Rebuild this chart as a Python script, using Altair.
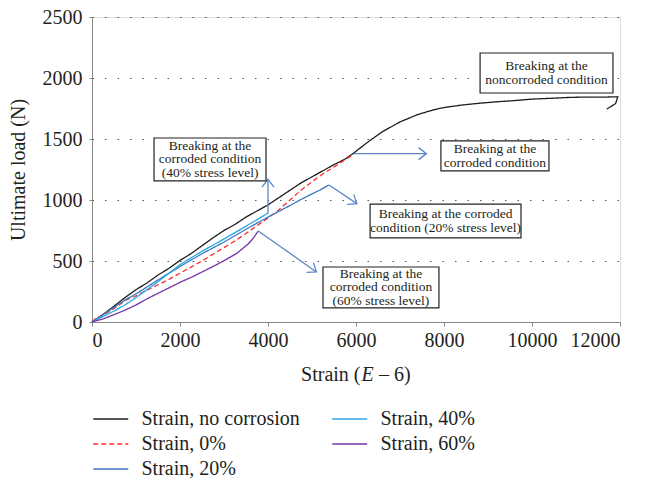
import math
import altair as alt
import pandas as pd

# ---------------- data ----------------
series_names = ["Strain, no corrosion", "Strain, 0%", "Strain, 20%", "Strain, 40%", "Strain, 60%"]

nocorr_x = [0, 150, 300, 500, 750, 1000, 1250, 1500, 1750, 2000, 2250, 2500, 2750, 3000, 3250, 3500,
            3750, 4000, 4250, 4500, 4750, 5000, 5250, 5500, 5750, 5950, 6250, 6600, 7000, 7400,
            7750, 8000, 8400, 8800, 9200, 9600, 10000, 10400, 10800, 11200, 11600, 11950, 11900, 11700]
nocorr_y = [0, 35, 75, 130, 200, 265, 320, 385, 440, 505, 560, 625, 690, 750, 800, 860,
            910, 960, 1020, 1080, 1140, 1190, 1240, 1290, 1335, 1385, 1470, 1560, 1640, 1700,
            1738, 1758, 1778, 1793, 1805, 1815, 1827, 1833, 1840, 1844, 1843, 1846, 1790, 1745]

c0_x = [0, 100, 250, 500, 750, 1000, 1250, 1500, 1750, 2000, 2250, 2500, 2750, 3000, 3250, 3500,
        3750, 4000, 4250, 4500, 4750, 5000, 5250, 5500, 5750, 5950]
c0_y = [0, 35, 55, 110, 175, 215, 260, 305, 350, 400, 450, 500, 555, 610, 665, 725,
        790, 852, 920, 1000, 1080, 1150, 1215, 1270, 1330, 1375]

c20_x = [0, 250, 500, 750, 1000, 1500, 2000, 2500, 3000, 3500, 4000, 4500, 4727, 5000, 5182, 5386]
c20_y = [0, 60, 120, 180, 230, 345, 455, 560, 655, 760, 860, 955, 1000, 1050, 1082, 1123]

c40_x = [0, 250, 500, 750, 1000, 1500, 2000, 2500, 3000, 3500, 4000]
c40_y = [0, 45, 90, 140, 200, 330, 470, 580, 680, 785, 893]

c60_x = [0, 250, 500, 758, 1000, 1250, 1515, 1750, 2000, 2273, 2500, 2750, 3030, 3300, 3550, 3650, 3780]
c60_y = [0, 25, 60, 98, 140, 190, 238, 280, 325, 369, 410, 455, 508, 565, 640, 680, 746]

# annotation boxes (data units)
box_x1 = [1410, 8820, 7930, 6320, 5250]
box_x2 = [3955, 11840, 10385, 9750, 7885]
box_y1 = [1156, 1877, 1238, 689, 115]
box_y2 = [1508, 2205, 1484, 967, 451]
box_text = ["Breaking at the\ncorroded condition\n(40% stress level)",
            "Breaking at the\nnoncorroded condition",
            "Breaking at the\ncorroded condition",
            "Breaking at the corroded\ncondition (20% stress level)",
            "Breaking at the\ncorroded condition\n(60% stress level)"]

# arrows (data units)
arrow_x1 = [4000, 5950, 5386, 3780]
arrow_y1 = [890, 1380, 1123, 746]
arrow_x2 = [4000, 7600, 6020, 5100]
arrow_y2 = [1170, 1380, 970, 410]

x_ticks = [0, 2000, 4000, 6000, 8000, 10000, 12000]
y_ticks = [0, 500, 1000, 1500, 2000, 2500]

# ---------------- tables ----------------
W, H = 528, 305
XMAX, YMAX = 12000, 2500
LINE_H = 13.5  # px between annotation lines

rows = []
for name, xs, ys in zip(series_names,
                        [nocorr_x, c0_x, c20_x, c40_x, c60_x],
                        [nocorr_y, c0_y, c20_y, c40_y, c60_y]):
    for i, (a, b) in enumerate(zip(xs, ys)):
        rows.append({"series": name, "strain": a, "load": b, "i": i})
df = pd.DataFrame(rows)

boxes = pd.DataFrame({"x1": box_x1, "x2": box_x2, "y1": box_y1, "y2": box_y2})

label_rows = []
for x1, x2, y1, y2, t in zip(box_x1, box_x2, box_y1, box_y2, box_text):
    parts = t.split("\n")
    n = len(parts)
    cx, cy = (x1 + x2) / 2, (y1 + y2) / 2
    for k, p in enumerate(parts):
        off_px = (k - (n - 1) / 2) * LINE_H
        label_rows.append({"cx": cx, "cy": cy - off_px * YMAX / H, "t": p})
labels = pd.DataFrame(label_rows)

arrows = pd.DataFrame({"x1": arrow_x1, "y1": arrow_y1, "x2": arrow_x2, "y2": arrow_y2})
arrows["ang"] = [
    math.degrees(math.atan2(-(b2 - b1) * H / YMAX, (a2 - a1) * W / XMAX)) % 360
    for a1, b1, a2, b2 in zip(arrow_x1, arrow_y1, arrow_x2, arrow_y2)
]

legend_order = series_names
color_map = {"Strain, no corrosion": "#1e1e1e", "Strain, 0%": "#ff2a2a", "Strain, 20%": "#3a78c2",
             "Strain, 40%": "#2aa9e0", "Strain, 60%": "#7434a6"}
dash_map = {"Strain, no corrosion": [1, 0], "Strain, 0%": [5, 3], "Strain, 20%": [1, 0],
            "Strain, 40%": [1, 0], "Strain, 60%": [1, 0]}

FONT = "Liberation Serif"
TXT = "#231f20"
ARROW = "#5a88c6"

xscale = alt.Scale(domain=[0, XMAX], nice=False)
yscale = alt.Scale(domain=[0, YMAX], nice=False)

legend = alt.Legend(title=None, orient="none", legendX=8.75, legendY=392, columns=2,
                    columnPadding=28, rowPadding=5, symbolType="M -2 0 L 2 0", symbolSize=306,
                    symbolStrokeWidth=1.6, labelFont=FONT, labelFontSize=20, labelColor=TXT,
                    labelOffset=20.75, labelLimit=300)

lines = alt.Chart(df).mark_line(strokeWidth=1.3).encode(
    x=alt.X("strain:Q", scale=xscale,
            axis=alt.Axis(values=x_ticks, title=None, grid=False, tickSize=4, labelPadding=4,
                          labelFont=FONT, labelFontSize=20, labelColor=TXT, format="d")),
    y=alt.Y("load:Q", scale=yscale,
            axis=alt.Axis(values=y_ticks, title="Ultimate load (N)", grid=True, gridDash=[1.5, 11],
                          gridColor="#555", gridWidth=1.2, tickSize=3, labelPadding=7,
                          labelFont=FONT, labelFontSize=20, labelColor=TXT, format="d",
                          titleFont=FONT, titleFontSize=20, titleFontWeight="normal",
                          titleColor=TXT, titleAngle=270, titleX=-74, titleY=H / 2,
                          titleAlign="center", titleBaseline="middle")),
    color=alt.Color("series:N", scale=alt.Scale(domain=legend_order,
                                                range=[color_map[s] for s in legend_order]),
                    legend=legend),
    strokeDash=alt.StrokeDash("series:N", scale=alt.Scale(domain=legend_order,
                                                          range=[dash_map[s] for s in legend_order]),
                              legend=legend),
    order="i:Q",
)

arrow_lines = alt.Chart(arrows).mark_rule(color=ARROW, strokeWidth=1.3).encode(
    x=alt.X("x1:Q", scale=xscale), y=alt.Y("y1:Q", scale=yscale), x2="x2:Q", y2="y2:Q")

arrow_heads = alt.Chart(arrows).mark_point(
    shape="M -1.3 -1 L 0 0 L -1.3 1", size=144, filled=False, color=ARROW, strokeWidth=1.3,
    opacity=1).encode(
    x=alt.X("x2:Q", scale=xscale), y=alt.Y("y2:Q", scale=yscale), angle=alt.Angle("ang:Q", scale=None))

box_rects = alt.Chart(boxes).mark_rect(fill="white", stroke="#222", strokeWidth=1.2).encode(
    x=alt.X("x1:Q", scale=xscale), x2="x2:Q", y=alt.Y("y1:Q", scale=yscale), y2="y2:Q")

box_labels = alt.Chart(labels).mark_text(font=FONT, fontSize=13.5, color=TXT,
                                         baseline="middle", align="center").encode(
    x=alt.X("cx:Q", scale=xscale), y=alt.Y("cy:Q", scale=yscale), text="t:N")

# x-axis title with italic E
t1 = alt.Chart(pd.DataFrame({"t": ["Strain ("]})).mark_text(
    font=FONT, fontSize=20, color=TXT, align="right", baseline="middle").encode(
    text="t:N", x=alt.value(268.5), y=alt.value(358))
t2 = alt.Chart(pd.DataFrame({"t": ["E"]})).mark_text(
    font=FONT, fontSize=20, color=TXT, align="left", baseline="middle", fontStyle="italic").encode(
    text="t:N", x=alt.value(269.5), y=alt.value(358))
t3 = alt.Chart(pd.DataFrame({"t": ["\u2013 6)"]})).mark_text(
    font=FONT, fontSize=20, color=TXT, align="left", baseline="middle").encode(
    text="t:N", x=alt.value(287), y=alt.value(358))

chart = alt.layer(lines, arrow_lines, arrow_heads, box_rects, box_labels, t1, t2, t3).properties(
    width=W, height=H, autosize="none",
    padding={"left": 92, "top": 17, "right": 26, "bottom": 159},
).configure_view(stroke="#444", strokeWidth=1.3).configure_axis(
    domainColor="#555", domainWidth=1.5, tickColor="#555", tickWidth=1.3
).configure(background="white")

chart.save("out.html", embed_options={"renderer": "svg", "actions": False})
